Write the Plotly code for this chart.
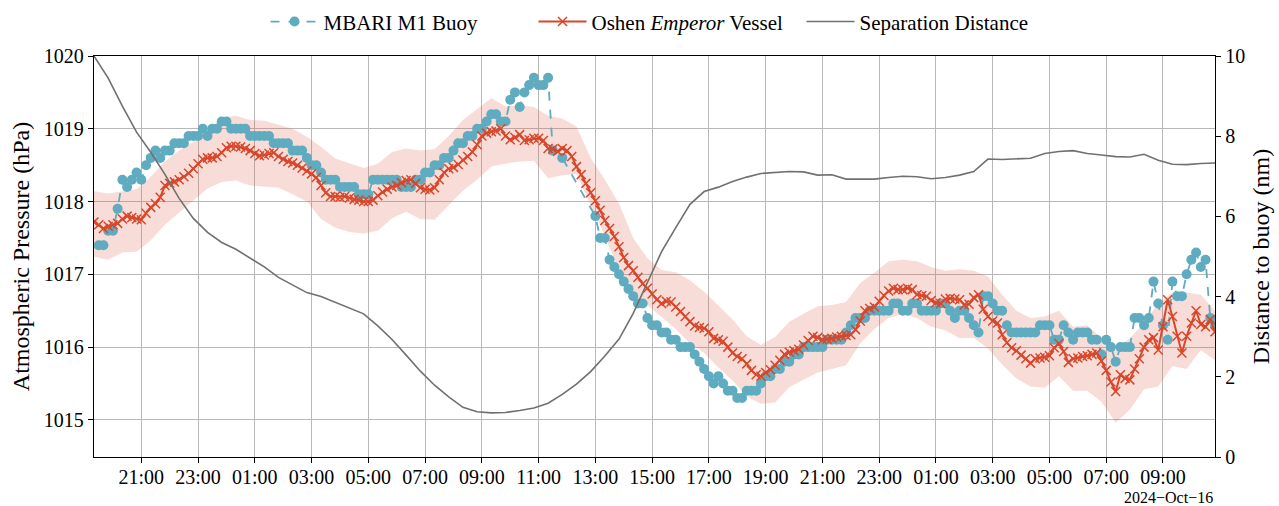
import pandas as pd
import plotly.graph_objects as go

# ---------------- data ----------------
# 10-minute samples, starting 2024-10-14 19:20
t10 = pd.date_range("2024-10-14 19:20", periods=238, freq="10min")
# 30-minute samples for band and separation distance
t30 = pd.date_range("2024-10-14 19:20", periods=80, freq="30min")

vessel = [
    1017.72, 1017.68, 1017.63, 1017.66, 1017.68, 1017.70, 1017.76, 1017.80, 1017.78, 1017.76,
    1017.75, 1017.84, 1017.92, 1017.97, 1018.06, 1018.22, 1018.25, 1018.27, 1018.30, 1018.34,
    1018.39, 1018.45, 1018.52, 1018.58, 1018.60, 1018.60, 1018.62, 1018.67, 1018.74, 1018.76,
    1018.76, 1018.75, 1018.73, 1018.70, 1018.66, 1018.63, 1018.64, 1018.66, 1018.67, 1018.62,
    1018.58, 1018.55, 1018.53, 1018.50, 1018.46, 1018.42, 1018.38, 1018.33, 1018.22, 1018.12,
    1018.07, 1018.07, 1018.06, 1018.07, 1018.05, 1018.03, 1018.02, 1018.00, 1018.00, 1018.02,
    1018.08, 1018.13, 1018.17, 1018.20, 1018.22, 1018.26, 1018.29, 1018.30, 1018.25, 1018.19,
    1018.17, 1018.16, 1018.19, 1018.30, 1018.40, 1018.45, 1018.47, 1018.51, 1018.57, 1018.62,
    1018.68, 1018.78, 1018.90, 1018.94, 1018.96, 1018.97, 1019.00, 1018.90, 1018.85, 1018.88,
    1018.92, 1018.84, 1018.85, 1018.87, 1018.87, 1018.84, 1018.73, 1018.72, 1018.69, 1018.73,
    1018.70, 1018.62, 1018.48, 1018.37, 1018.25, 1018.12, 1018.01, 1017.88, 1017.74, 1017.63,
    1017.52, 1017.38, 1017.23, 1017.12, 1017.05, 1016.96, 1016.87, 1016.81, 1016.73, 1016.65,
    1016.60, 1016.63, 1016.62, 1016.55, 1016.49, 1016.42, 1016.35, 1016.29, 1016.27, 1016.26,
    1016.21, 1016.12, 1016.10, 1016.08, 1016.00, 1015.92, 1015.87, 1015.84, 1015.77, 1015.68,
    1015.62, 1015.60, 1015.65, 1015.69, 1015.75, 1015.82, 1015.90, 1015.93, 1015.95, 1015.97,
    1016.03, 1016.09, 1016.15, 1016.13, 1016.10, 1016.11, 1016.12, 1016.14, 1016.15, 1016.16,
    1016.17, 1016.24, 1016.36, 1016.50, 1016.53, 1016.55, 1016.63, 1016.71, 1016.77, 1016.81,
    1016.79, 1016.79, 1016.81, 1016.79, 1016.72, 1016.71, 1016.70, 1016.64, 1016.61, 1016.60,
    1016.66, 1016.67, 1016.66, 1016.65, 1016.58, 1016.59, 1016.68, 1016.72, 1016.52, 1016.42,
    1016.36, 1016.33, 1016.17, 1016.06, 1015.99, 1015.95, 1015.89, 1015.84, 1015.78, 1015.84,
    1015.85, 1015.86, 1015.88, 1015.99, 1016.05, 1015.94, 1015.79, 1015.84, 1015.85, 1015.87,
    1015.88, 1015.90, 1015.92, 1015.81, 1015.68, 1015.52, 1015.39, 1015.62, 1015.57, 1015.55,
    1015.70, 1015.84, 1016.00, 1016.10, 1016.13, 1015.96, 1016.28, 1016.65, 1016.42, 1016.15,
    1015.92, 1016.15, 1016.33, 1016.50, 1016.31, 1016.28, 1016.38, 1016.21,
]

buoy = [
    None,
    1017.4, 1017.4, 1017.6, 1017.6, 1017.9, 1018.3, 1018.2, 1018.3, 1018.4, 1018.3,
    1018.5, 1018.6, 1018.7, 1018.6, 1018.7, 1018.7, 1018.8, 1018.8, 1018.8, 1018.9,
    1018.9, 1018.9, 1019.0, 1018.9, 1019.0, 1019.0, 1019.1, 1019.1, 1019.0, 1019.0,
    1019.0, 1019.0, 1018.9, 1018.9, 1018.9, 1018.9, 1018.9, 1018.8, 1018.8, 1018.8,
    1018.8, 1018.7, 1018.7, 1018.7, 1018.6, 1018.5, 1018.5, 1018.4, 1018.3, 1018.3,
    1018.3, 1018.2, 1018.2, 1018.2, 1018.2, 1018.1, 1018.1, 1018.1, 1018.3, 1018.3,
    1018.3, 1018.3, 1018.3, 1018.3, 1018.2, 1018.2, 1018.2, 1018.3, 1018.3, 1018.4,
    1018.4, 1018.5, 1018.5, 1018.6, 1018.6, 1018.7, 1018.8, 1018.8, 1018.9, 1018.9,
    1019.0, 1019.0, 1019.1, 1019.2, 1019.2, 1019.1, 1019.1, 1019.4, 1019.5, 1019.3,
    1019.5, 1019.6, 1019.7, 1019.6, 1019.6, 1019.7, 1018.7, None, 1018.6, None,
    None, None, None, None, None, 1017.8, 1017.5, 1017.5, 1017.2, 1017.1,
    1017.0, 1016.9, 1016.8, 1016.7, 1016.6, 1016.6, 1016.4, 1016.3, 1016.3, 1016.2,
    1016.2, 1016.1, 1016.1, 1016.0, 1016.0, 1016.0, 1015.9, 1015.8, 1015.7, 1015.6,
    1015.5, 1015.6, 1015.5, 1015.4, 1015.4, 1015.3, 1015.3, 1015.4, 1015.4, 1015.4,
    1015.5, 1015.6, 1015.6, 1015.7, 1015.7, 1015.8, 1015.8, 1015.9, 1015.9, 1016.0,
    1016.0, 1016.0, 1016.0, 1016.0, 1016.1, 1016.1, 1016.1, 1016.1, 1016.2, 1016.3,
    1016.4, 1016.4, 1016.4, 1016.5, 1016.5, 1016.5, 1016.5, 1016.5, 1016.6, 1016.6,
    1016.5, 1016.5, 1016.6, 1016.6, 1016.5, 1016.5, 1016.5, 1016.5, 1016.6, 1016.6,
    1016.5, 1016.4, 1016.5, 1016.5, 1016.4, 1016.3, 1016.2, 1016.7, 1016.7, 1016.6,
    1016.5, 1016.5, 1016.3, 1016.2, 1016.2, 1016.2, 1016.2, 1016.2, 1016.2, 1016.3,
    1016.3, 1016.3, 1016.1, 1016.1, 1016.3, 1016.2, 1016.1, 1016.2, 1016.2, 1016.2,
    1016.1, 1016.1, 1015.9, 1016.1, 1016.0, 1015.8, 1016.0, 1016.0, 1016.0, 1016.4,
    1016.4, 1016.3, 1016.4, 1016.9, 1016.6, 1016.3, 1016.1, 1016.9, 1016.7, 1016.7,
    1017.0, 1017.2, 1017.3, 1017.1, 1017.2, 1016.4, 1016.3,
]

band_upper = [
    1018.14, 1018.11, 1018.14, 1018.17, 1018.34, 1018.55, 1018.70, 1018.82, 1018.97, 1019.15,
    1019.18, 1019.12, 1019.11, 1019.06, 1019.00, 1018.89, 1018.75, 1018.59, 1018.52, 1018.46,
    1018.52, 1018.68, 1018.73, 1018.70, 1018.72, 1018.90, 1019.12, 1019.27, 1019.42, 1019.31,
    1019.32, 1019.30, 1019.18, 1019.14, 1019.03, 1018.60, 1018.30, 1017.97, 1017.50, 1017.22,
    1017.06, 1017.03, 1016.92, 1016.76, 1016.57, 1016.38, 1016.15, 1016.03, 1016.14, 1016.35,
    1016.46, 1016.56, 1016.58, 1016.62, 1016.88, 1017.02, 1017.18, 1017.20, 1017.18, 1017.10,
    1017.05, 1017.07, 1017.05, 1016.97, 1016.72, 1016.50, 1016.40, 1016.42, 1016.50, 1016.28,
    1016.30, 1016.12, 1015.96, 1016.12, 1016.33, 1016.60, 1016.75, 1016.75, 1016.72, 1016.50,
]
band_lower = [
    1017.24, 1017.20, 1017.30, 1017.31, 1017.47, 1017.68, 1017.85, 1018.01, 1018.18, 1018.27,
    1018.29, 1018.22, 1018.21, 1018.19, 1018.10, 1018.00, 1017.76, 1017.64, 1017.58, 1017.56,
    1017.60, 1017.77, 1017.86, 1017.76, 1017.75, 1017.95, 1018.15, 1018.30, 1018.48, 1018.52,
    1018.55, 1018.56, 1018.32, 1018.36, 1018.38, 1017.95, 1017.53, 1017.05, 1016.72, 1016.58,
    1016.42, 1016.25, 1016.05, 1015.92, 1015.72, 1015.54, 1015.32, 1015.22, 1015.24, 1015.45,
    1015.55, 1015.65, 1015.70, 1015.75, 1016.05, 1016.25, 1016.40, 1016.46, 1016.40, 1016.28,
    1016.23, 1016.12, 1016.13, 1015.98, 1015.76, 1015.57, 1015.46, 1015.44, 1015.60, 1015.40,
    1015.40, 1015.25, 1014.96, 1015.14, 1015.42, 1015.46, 1015.74, 1015.70, 1015.96, 1015.82,
]

distance_nm = [
    10.00, 9.45, 8.75, 8.10, 7.60, 7.05, 6.45, 5.95, 5.60, 5.35,
    5.18, 4.95, 4.74, 4.48, 4.28, 4.10, 4.00, 3.86, 3.72, 3.57,
    3.27, 2.93, 2.54, 2.14, 1.79, 1.50, 1.24, 1.13, 1.10, 1.11,
    1.16, 1.22, 1.34, 1.56, 1.82, 2.13, 2.52, 2.94, 3.58, 4.35,
    5.12, 5.72, 6.30, 6.62, 6.73, 6.87, 6.98, 7.07, 7.09, 7.12,
    7.11, 7.03, 7.04, 6.93, 6.93, 6.93, 6.97, 7.00, 6.99, 6.94,
    6.97, 7.03, 7.12, 7.43, 7.42, 7.43, 7.45, 7.57, 7.62, 7.64,
    7.57, 7.53, 7.49, 7.48, 7.55, 7.40, 7.30, 7.29, 7.32, 7.33,
]

# ---------------- style ----------------
TEAL = "#5fabbf"
RED = "#d8472b"
GRAY = "#707070"
BAND = "rgba(225,95,75,0.22)"
GRID = "#b8b8b8"
FONT = "Liberation Serif"

fig = go.Figure()

fig.add_trace(go.Scatter(x=t30, y=band_upper, mode="lines", line=dict(width=0),
                         showlegend=False, hoverinfo="skip"))
fig.add_trace(go.Scatter(x=t30, y=band_lower, mode="lines", line=dict(width=0),
                         fill="tonexty", fillcolor=BAND, showlegend=False, hoverinfo="skip"))

fig.add_trace(go.Scatter(
    x=t10, y=buoy, mode="lines+markers", name="MBARI M1 Buoy", connectgaps=True,
    line=dict(color=TEAL, width=1.8, dash="dash"),
    marker=dict(symbol="circle", size=10, color=TEAL)))

fig.add_trace(go.Scatter(
    x=t10, y=vessel, mode="lines+markers", name="Oshen <i>Emperor</i> Vessel",
    line=dict(color=RED, width=2),
    marker=dict(symbol="x-thin", size=9, color=RED, line=dict(width=1.5, color=RED))))

fig.add_trace(go.Scatter(
    x=t30, y=distance_nm, mode="lines", name="Separation Distance", yaxis="y2",
    line=dict(color=GRAY, width=1.6)))

fig.update_layout(
    width=1279, height=506,
    margin=dict(l=94, r=64, t=56, b=49, autoexpand=False),
    paper_bgcolor="white", plot_bgcolor="white",
    font=dict(family=FONT, size=20, color="black"),
    legend=dict(orientation="h", x=0.153, xanchor="left", y=1.085, yanchor="middle",
                traceorder="normal", itemwidth=48, entrywidth=205,
                font=dict(size=21), bgcolor="rgba(0,0,0,0)"),
    xaxis=dict(
        type="date", range=[t10[0], t10[-1]],
        tick0="2024-10-14 21:00", dtick=7200000, tickformat="%H:%M",
        showgrid=True, gridcolor=GRID, gridwidth=1,
        ticks="outside", ticklen=5, tickcolor="black", ticklabelstandoff=-3,
        showline=True, linecolor="black", linewidth=1.3, mirror=True,
        tickfont=dict(size=20), automargin=False,
    ),
    yaxis=dict(
        range=[1014.49, 1020.0], tick0=1015, dtick=1,
        showgrid=True, gridcolor=GRID, gridwidth=1, zeroline=False,
        ticks="outside", ticklen=5, tickcolor="black",
        showline=True, linecolor="black", linewidth=1.3,
        tickfont=dict(size=20), automargin=False,
        title=dict(text="Atmospheric Pressure (hPa)", font=dict(size=24), standoff=7),
    ),
    yaxis2=dict(
        overlaying="y", side="right", range=[0, 10], tick0=0, dtick=2,
        showgrid=False, zeroline=False,
        ticks="outside", ticklen=5, tickcolor="black",
        showline=True, linecolor="black", linewidth=1.3,
        tickfont=dict(size=20), automargin=False,
        title=dict(text="Distance to buoy (nm)", font=dict(size=24), standoff=8),
    ),
    annotations=[dict(text="2024\u2212Oct\u221216", xref="paper", yref="paper",
                      x=1.0, y=-0.1, xanchor="right", yanchor="middle",
                      showarrow=False, font=dict(size=16))],
)

fig.write_html("out.html")
